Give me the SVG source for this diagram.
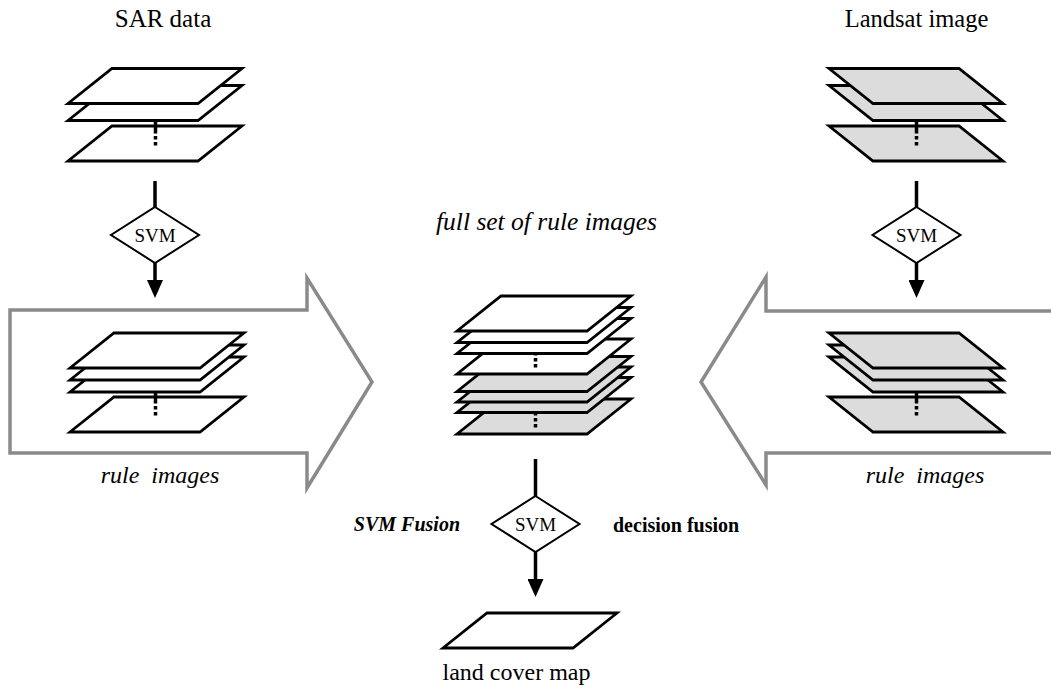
<svg xmlns="http://www.w3.org/2000/svg" width="1051" height="691" viewBox="0 0 1051 691">
  <style>
    .lbl { font-family: "Liberation Serif", "Times New Roman", serif; fill: #000; }
    .big { font-size: 24px; }
    .it { font-style: italic; }
    .svm { font-size: 19px; text-anchor: middle; }
    .note { font-size: 20px; font-weight: bold; }
    .layer { stroke: #000; stroke-width: 2.8; stroke-linejoin: miter; }
    .w { fill: #fff; }
    .g { fill: #dcdcdc; }
    .flow { fill: #fff; stroke: #8a8a8a; stroke-width: 3.5; stroke-linejoin: miter; }
    .diamond { fill: #fff; stroke: #000; stroke-width: 2; }
    .conn { stroke: #000; stroke-width: 3.5; fill: none; }
    .dots { stroke: #000; stroke-width: 3.5; }
    .dash { stroke-dasharray: 3.5,2.5; }
  </style>
  <defs>
    <!-- a single image layer seen in perspective, leaning right / left -->
    <path id="lyrR" d="M44,0 H174 L130,35 H0 Z"/>
    <path id="lyrL" d="M0,0 H130 L174,35 H44 Z"/>
    <path id="dia" d="M0,-28 L44,0 L0,28 L-44,0 Z"/>
    <marker id="head" markerUnits="userSpaceOnUse" markerWidth="18" markerHeight="16" viewBox="0 0 18 16" refX="10" refY="8" orient="auto">
      <path d="M0,0 L18,8 L0,16 Z" fill="#000"/>
    </marker>
  </defs>
  <rect width="1051" height="691" fill="#fff"/>

  <!-- wide flow arrows carrying the rule images to the centre -->
  <g id="flow-left">
    <polygon class="flow" points="10,310 307,310 307,278 372,382 307,488 307,453 10,453"/>
  </g>
  <g id="flow-right">
    <polygon class="flow" points="1060,311 766,311 766,277 701,382 766,485 766,453 1060,453"/>
  </g>

  <!-- SAR input stack -->
  <g id="sar-stack">
    <use href="#lyrR" class="layer w" x="68" y="126"/>
    <line class="dots" x1="155.5" y1="119" x2="155.5" y2="130"/>
    <line class="dots dash" x1="155.5" y1="130" x2="155.5" y2="146"/>
    <use href="#lyrR" class="layer w" x="68" y="85.5"/>
    <use href="#lyrR" class="layer w" x="68" y="68.5"/>
    <text class="lbl" x="163" y="27" text-anchor="middle" font-size="25">SAR data</text>
  </g>

  <!-- Landsat input stack -->
  <g id="landsat-stack">
    <use href="#lyrL" class="layer g" x="829" y="126"/>
    <line class="dots" x1="916.5" y1="119" x2="916.5" y2="130"/>
    <line class="dots dash" x1="916.5" y1="130" x2="916.5" y2="146"/>
    <use href="#lyrL" class="layer g" x="829" y="85.5"/>
    <use href="#lyrL" class="layer g" x="829" y="68.5"/>
    <text class="lbl" x="916.5" y="27" text-anchor="middle" font-size="24.5">Landsat image</text>
  </g>

  <!-- SVM classifiers -->
  <g id="svm-sar">
    <use href="#dia" class="diamond" x="155" y="235"/>
    <text class="lbl svm" x="155" y="242">SVM</text>
  </g>
  <g id="svm-landsat">
    <use href="#dia" class="diamond" x="916.5" y="235"/>
    <text class="lbl svm" x="916.5" y="242">SVM</text>
  </g>

  <!-- SAR rule images -->
  <g id="sar-rules">
    <use href="#lyrR" class="layer w" x="70" y="397"/>
    <line class="dots" x1="155.5" y1="390" x2="155.5" y2="400"/>
    <line class="dots dash" x1="155.5" y1="400" x2="155.5" y2="416"/>
    <use href="#lyrR" class="layer w" x="70" y="357"/>
    <use href="#lyrR" class="layer w" x="70" y="345"/>
    <use href="#lyrR" class="layer w" x="70" y="333"/>
    <text class="lbl big it" x="160" y="483" text-anchor="middle" xml:space="preserve">rule  images</text>
  </g>

  <!-- Landsat rule images -->
  <g id="landsat-rules">
    <use href="#lyrL" class="layer g" x="829" y="397"/>
    <line class="dots" x1="916.5" y1="390" x2="916.5" y2="400"/>
    <line class="dots dash" x1="916.5" y1="400" x2="916.5" y2="416"/>
    <use href="#lyrL" class="layer g" x="829" y="357"/>
    <use href="#lyrL" class="layer g" x="829" y="345"/>
    <use href="#lyrL" class="layer g" x="829" y="333"/>
    <text class="lbl big it" x="925" y="483" text-anchor="middle" xml:space="preserve">rule  images</text>
  </g>

  <!-- combined stack of all rule images -->
  <g id="full-set">
    <use href="#lyrR" class="layer g" x="457" y="399"/>
    <line class="dots dash" x1="535.5" y1="412" x2="535.5" y2="429"/>
    <use href="#lyrR" class="layer g" x="457" y="377.5"/>
    <use href="#lyrR" class="layer g" x="457" y="367"/>
    <use href="#lyrR" class="layer g" x="457" y="356.5"/>
    <use href="#lyrR" class="layer w" x="457" y="339"/>
    <line class="dots dash" x1="535.5" y1="352" x2="535.5" y2="368"/>
    <use href="#lyrR" class="layer w" x="457" y="318.5"/>
    <use href="#lyrR" class="layer w" x="457" y="307.5"/>
    <use href="#lyrR" class="layer w" x="457" y="296"/>
    <text class="lbl it" x="546.5" y="230" text-anchor="middle" font-size="25.5">full set of rule images</text>
  </g>

  <!-- fusion classifier -->
  <g id="svm-fusion">
    <use href="#dia" class="diamond" x="535.5" y="524"/>
    <text class="lbl svm" x="535.5" y="531">SVM</text>
    <text class="lbl note it" x="460" y="531" text-anchor="end">SVM Fusion</text>
    <text class="lbl note" x="613" y="532">decision fusion</text>
  </g>

  <!-- output map -->
  <g id="land-cover">
    <use href="#lyrR" class="layer w" x="443" y="613"/>
    <text class="lbl big" x="516.5" y="680" text-anchor="middle">land cover map</text>
  </g>

  <!-- connectors -->
  <g id="connectors">
    <line class="conn" x1="155" y1="181" x2="155" y2="207"/>
    <line class="conn" x1="155" y1="263" x2="155" y2="290" marker-end="url(#head)"/>
    <line class="conn" x1="916.5" y1="181" x2="916.5" y2="207"/>
    <line class="conn" x1="916.5" y1="263" x2="916.5" y2="290" marker-end="url(#head)"/>
    <line class="conn" x1="535.5" y1="459" x2="535.5" y2="496"/>
    <line class="conn" x1="535.5" y1="552" x2="535.5" y2="589" marker-end="url(#head)"/>
  </g>
</svg>
